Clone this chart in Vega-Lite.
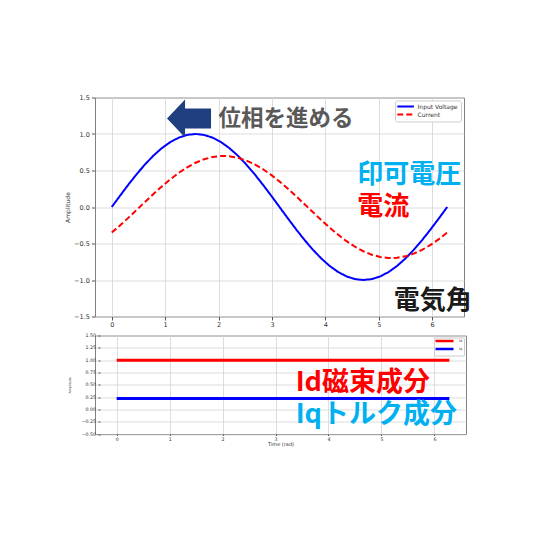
{
  "$schema": "https://vega.github.io/schema/vega-lite/v6.json",
  "description": "Voltage / current phase chart with dq current components below.",
  "background": "white",
  "padding": {"left": 64, "top": 93.5, "right": 0, "bottom": 0},
  "datasets": {
    "wave": [
      {"t": 0, "Input Voltage": 0, "Current": -0.35},
      {"t": 0.157, "Input Voltage": 0.1564, "Current": -0.2509},
      {"t": 0.314, "Input Voltage": 0.309, "Current": -0.1455},
      {"t": 0.471, "Input Voltage": 0.454, "Current": -0.0366},
      {"t": 0.628, "Input Voltage": 0.5878, "Current": 0.0732},
      {"t": 0.785, "Input Voltage": 0.7071, "Current": 0.1812},
      {"t": 0.942, "Input Voltage": 0.809, "Current": 0.2847},
      {"t": 1.1, "Input Voltage": 0.891, "Current": 0.3812},
      {"t": 1.257, "Input Voltage": 0.9511, "Current": 0.4684},
      {"t": 1.414, "Input Voltage": 0.9877, "Current": 0.544},
      {"t": 1.571, "Input Voltage": 1, "Current": 0.6062},
      {"t": 1.728, "Input Voltage": 0.9877, "Current": 0.6535},
      {"t": 1.885, "Input Voltage": 0.9511, "Current": 0.6847},
      {"t": 2.042, "Input Voltage": 0.891, "Current": 0.699},
      {"t": 2.199, "Input Voltage": 0.809, "Current": 0.6962},
      {"t": 2.356, "Input Voltage": 0.7071, "Current": 0.6761},
      {"t": 2.513, "Input Voltage": 0.5878, "Current": 0.6395},
      {"t": 2.67, "Input Voltage": 0.454, "Current": 0.5871},
      {"t": 2.827, "Input Voltage": 0.309, "Current": 0.5202},
      {"t": 2.985, "Input Voltage": 0.1564, "Current": 0.4405},
      {"t": 3.142, "Input Voltage": 0, "Current": 0.35},
      {"t": 3.299, "Input Voltage": -0.1564, "Current": 0.2509},
      {"t": 3.456, "Input Voltage": -0.309, "Current": 0.1455},
      {"t": 3.613, "Input Voltage": -0.454, "Current": 0.0366},
      {"t": 3.77, "Input Voltage": -0.5878, "Current": -0.0732},
      {"t": 3.927, "Input Voltage": -0.7071, "Current": -0.1812},
      {"t": 4.084, "Input Voltage": -0.809, "Current": -0.2847},
      {"t": 4.241, "Input Voltage": -0.891, "Current": -0.3812},
      {"t": 4.398, "Input Voltage": -0.9511, "Current": -0.4684},
      {"t": 4.555, "Input Voltage": -0.9877, "Current": -0.544},
      {"t": 4.712, "Input Voltage": -1, "Current": -0.6062},
      {"t": 4.869, "Input Voltage": -0.9877, "Current": -0.6535},
      {"t": 5.027, "Input Voltage": -0.9511, "Current": -0.6847},
      {"t": 5.184, "Input Voltage": -0.891, "Current": -0.699},
      {"t": 5.341, "Input Voltage": -0.809, "Current": -0.6962},
      {"t": 5.498, "Input Voltage": -0.7071, "Current": -0.6761},
      {"t": 5.655, "Input Voltage": -0.5878, "Current": -0.6395},
      {"t": 5.812, "Input Voltage": -0.454, "Current": -0.5871},
      {"t": 5.969, "Input Voltage": -0.309, "Current": -0.5202},
      {"t": 6.126, "Input Voltage": -0.1564, "Current": -0.4405},
      {"t": 6.283, "Input Voltage": 0, "Current": -0.35}
    ],
    "dq": [
      {"t": 0, "component": "Id", "amp": 1.0},
      {"t": 6.283, "component": "Id", "amp": 1.0},
      {"t": 0, "component": "Iq", "amp": 0.22},
      {"t": 6.283, "component": "Iq", "amp": 0.22}
    ]
  },
  "spacing": 3,
  "resolve": {
    "scale": {"color": "independent", "strokeDash": "independent", "x": "independent", "y": "independent"},
    "legend": {"color": "independent", "strokeDash": "independent"}
  },
  "vconcat": [
    {
      "width": 369,
      "height": 219,
      "layer": [
        {
          "data": {"name": "wave"},
          "transform": [{"fold": ["Input Voltage", "Current"], "as": ["series", "amp"]}],
          "mark": {"type": "line", "strokeWidth": 2, "clip": true},
          "encoding": {
            "x": {
              "field": "t",
              "type": "quantitative",
              "scale": {"domain": [-0.314, 6.597], "nice": false, "zero": false},
              "axis": {"values": [0, 1, 2, 3, 4, 5, 6], "tickCount": 20, "format": "d", "title": null, "labelFontSize": 6.5, "tickSize": 3.5, "labelPadding": 1, "labelOverlap": false}
            },
            "y": {
              "field": "amp",
              "type": "quantitative",
              "scale": {"domain": [-1.5, 1.5], "nice": false},
              "axis": {"values": [-1.5, -1, -0.5, 0, 0.5, 1, 1.5], "tickCount": 20, "format": ".1f", "title": "Amplitude", "labelFontSize": 6.5, "tickSize": 3.5, "labelPadding": 2.2, "titleFontSize": 6, "titlePadding": 3, "labelOverlap": false}
            },
            "color": {
              "field": "series",
              "type": "nominal",
              "scale": {"domain": ["Input Voltage", "Current"], "range": ["#0000ff", "#ff0000"]},
              "legend": {"title": null, "orient": "top-right", "offset": 3, "padding": 3, "labelFontSize": 6, "symbolType": "M-4.8,0H4.8", "symbolSize": 12, "symbolStrokeWidth": 2, "symbolOffset": 4.6, "labelOffset": 9, "rowPadding": 0, "fillColor": "white", "strokeColor": "#cccccc", "cornerRadius": 2}
            },
            "strokeDash": {
              "field": "series",
              "type": "nominal",
              "scale": {"domain": ["Input Voltage", "Current"], "range": [[1, 0], [6, 3]]},
              "legend": {"title": null, "orient": "top-right", "offset": 3, "padding": 3, "labelFontSize": 6, "symbolType": "M-4.8,0H4.8", "symbolSize": 12, "symbolStrokeWidth": 2, "symbolOffset": 4.6, "labelOffset": 9, "rowPadding": 0, "fillColor": "white", "strokeColor": "#cccccc", "cornerRadius": 2}
            }
          }
        },
        {
          "data": {"values": [{"t": 1.447, "amp": 1.212}]},
          "mark": {"type": "point", "shape": "M-1,0L-0.18,-0.86L-0.18,-0.45L1,-0.45L1,0.45L-0.18,0.45L-0.18,0.86Z", "filled": true, "color": "#1f3f7f", "opacity": 1, "size": 1936},
          "encoding": {
            "x": {"field": "t", "type": "quantitative"},
            "y": {"field": "amp", "type": "quantitative"}
          }
        },
        {
          "data": {"values": [{"t": 2.0, "amp": 1.2, "note": "位相を進める"}]},
          "mark": {"type": "text", "align": "left", "baseline": "middle", "font": "Noto Sans CJK JP", "fontWeight": "bold", "fontSize": 22.5, "color": "#595959"},
          "encoding": {
            "x": {"field": "t", "type": "quantitative"},
            "y": {"field": "amp", "type": "quantitative"},
            "text": {"field": "note"}
          }
        },
        {
          "data": {"values": [{"t": 4.6, "amp": 0.44, "note": "印可電圧"}]},
          "mark": {"type": "text", "align": "left", "baseline": "middle", "font": "Noto Sans CJK JP", "fontWeight": "bold", "fontSize": 26, "color": "#00b0f0"},
          "encoding": {
            "x": {"field": "t", "type": "quantitative"},
            "y": {"field": "amp", "type": "quantitative"},
            "text": {"field": "note"}
          }
        },
        {
          "data": {"values": [{"t": 4.6, "amp": 0.0, "note": "電流"}]},
          "mark": {"type": "text", "align": "left", "baseline": "middle", "font": "Noto Sans CJK JP", "fontWeight": "bold", "fontSize": 26, "color": "#ff0000"},
          "encoding": {
            "x": {"field": "t", "type": "quantitative"},
            "y": {"field": "amp", "type": "quantitative"},
            "text": {"field": "note"}
          }
        },
        {
          "data": {"values": [{"t": 5.28, "amp": -1.29, "note": "電気角"}]},
          "mark": {"type": "text", "align": "left", "baseline": "middle", "font": "Noto Sans CJK JP", "fontWeight": "bold", "fontSize": 26, "color": "#1a1a1a"},
          "encoding": {
            "x": {"field": "t", "type": "quantitative"},
            "y": {"field": "amp", "type": "quantitative"},
            "text": {"field": "note"}
          }
        }
      ]
    },
    {
      "width": 371,
      "height": 98.5,
      "layer": [
        {
          "data": {"name": "dq"},
          "mark": {"type": "line", "strokeWidth": 3},
          "encoding": {
            "x": {
              "field": "t",
              "type": "quantitative",
              "scale": {"domain": [-0.409, 6.597], "nice": false, "zero": false},
              "axis": {"values": [0, 1, 2, 3, 4, 5, 6], "tickCount": 20, "format": "d", "title": "Time (rad)", "labelFontSize": 4.7, "tickSize": 1.5, "labelPadding": 0.5, "titleFontSize": 5, "titlePadding": 0.5, "labelOverlap": false}
            },
            "y": {
              "field": "amp",
              "type": "quantitative",
              "scale": {"domain": [-0.5, 1.5], "nice": false},
              "axis": {"values": [-0.5, -0.25, 0, 0.25, 0.5, 0.75, 1, 1.25, 1.5], "tickCount": 20, "format": ".2f", "title": "Amplitude", "offset": -5, "labelFontSize": 4.7, "tickSize": 2, "labelPadding": 2.5, "titleFontSize": 3.2, "titlePadding": 9.4, "labelOverlap": false}
            },
            "color": {
              "field": "component",
              "type": "nominal",
              "scale": {"domain": ["Id", "Iq"], "range": ["#ff0000", "#0000ff"]},
              "legend": {"title": null, "orient": "top-right", "offset": 2, "padding": 1, "labelFontSize": 3.5, "symbolType": "M-9,0H9", "symbolSize": 4, "symbolStrokeWidth": 2.5, "symbolOffset": 7, "labelOffset": 12, "rowPadding": -4, "fillColor": "white", "strokeColor": "#cccccc", "cornerRadius": 1}
            }
          }
        },
        {
          "data": {"values": [{"t": 3.38, "amp": 0.54, "note": "Id磁束成分"}]},
          "mark": {"type": "text", "align": "left", "baseline": "middle", "font": "Noto Sans CJK JP", "fontWeight": "bold", "fontSize": 27, "color": "#ff0000"},
          "encoding": {
            "x": {"field": "t", "type": "quantitative"},
            "y": {"field": "amp", "type": "quantitative"},
            "text": {"field": "note"}
          }
        },
        {
          "data": {"values": [{"t": 3.38, "amp": -0.12, "note": "Iqトルク成分"}]},
          "mark": {"type": "text", "align": "left", "baseline": "middle", "font": "Noto Sans CJK JP", "fontWeight": "bold", "fontSize": 27, "color": "#00b0f0"},
          "encoding": {
            "x": {"field": "t", "type": "quantitative"},
            "y": {"field": "amp", "type": "quantitative"},
            "text": {"field": "note"}
          }
        }
      ]
    }
  ],
  "config": {
    "font": "DejaVu Sans",
    "view": {"stroke": "#808080", "strokeWidth": 1},
    "axis": {"grid": true, "gridColor": "#d4d4d4", "gridWidth": 0.8, "domain": false, "labelOverlap": false, "tickColor": "#555555", "labelColor": "#333333", "titleColor": "#333333", "titleFontWeight": "normal", "labelFont": "DejaVu Sans", "titleFont": "DejaVu Sans"},
    "legend": {"labelFont": "DejaVu Sans", "labelColor": "#333333"}
  }
}
